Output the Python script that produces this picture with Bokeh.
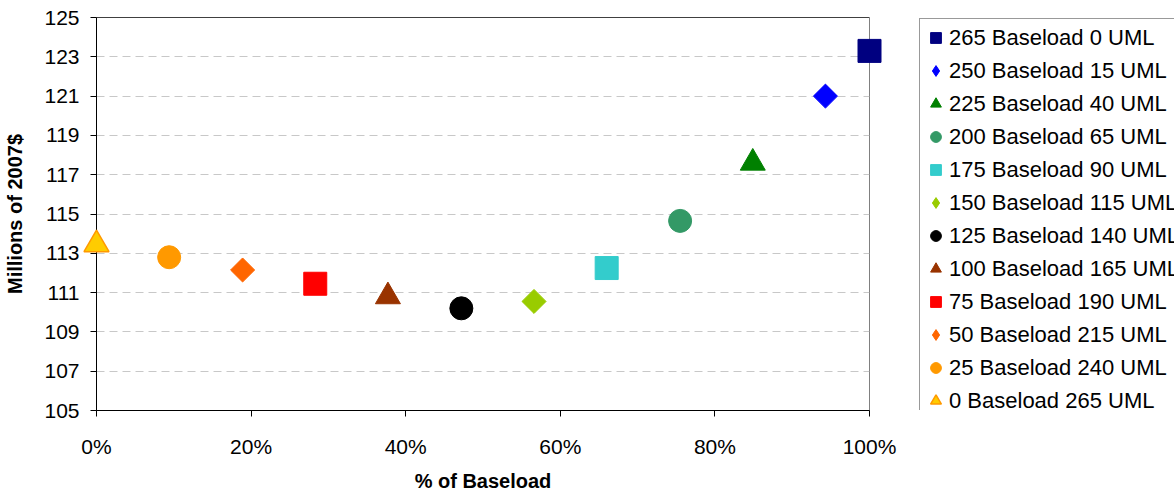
from bokeh.plotting import figure
from bokeh.layouts import row
from bokeh.models import (Legend, LegendItem, NumeralTickFormatter, FixedTicker, Range1d,
                          Span, ColumnDataSource)
from bokeh.embed import file_html
from bokeh.resources import INLINE
import math

# Portfolio mixes: baseload units vs. UML units
series_labels = [
    "265 Baseload 0 UML", "250 Baseload 15 UML", "225 Baseload 40 UML",
    "200 Baseload 65 UML", "175 Baseload 90 UML", "150 Baseload 115 UML",
    "125 Baseload 140 UML", "100 Baseload 165 UML", "75 Baseload 190 UML",
    "50 Baseload 215 UML", "25 Baseload 240 UML", "0 Baseload 265 UML",
]
pct_baseload = [1.000, 0.943, 0.849, 0.755, 0.660, 0.566, 0.472, 0.377, 0.283, 0.189, 0.094, 0.000]
cost_musd = [123.3, 121.0, 117.6, 114.65, 112.25, 110.55, 110.2, 110.8, 111.45, 112.15, 112.8, 113.45]

x_ticks = [0.0, 0.2, 0.4, 0.6, 0.8, 1.0]
y_ticks = [105, 107, 109, 111, 113, 115, 117, 119, 121, 123, 125]

markers = ["square", "diamond", "triangle", "circle", "square", "diamond",
           "circle", "triangle", "square", "diamond", "circle", "triangle"]
fills = ["#000080", "#0000FF", "#008000", "#339966", "#33CCCC", "#99CC00",
         "#000000", "#993300", "#FF0000", "#FF6600", "#FF9900", "#FFCC00"]
outlines = fills[:-1] + ["#FF9900"]

FONT = "Liberation Sans"

# ---- scatter plot -------------------------------------------------------
p = figure(width=918, height=494, output_backend="svg", toolbar_location=None,
           x_range=Range1d(0, 1), y_range=Range1d(105, 125),
           min_border_left=96, min_border_right=49, min_border_top=17, min_border_bottom=77)
p.background_fill_color = "white"
p.border_fill_color = "white"
p.outline_line_color = "#808080"
p.outline_line_width = 1

p.add_layout(Span(location=125, dimension="width", line_color="black", line_width=1))

p.xgrid.grid_line_color = None
p.ygrid.grid_line_color = "#C8C8C8"
p.ygrid.grid_line_dash = "8 5"
p.ygrid.grid_line_width = 1

for ax in (p.xaxis[0], p.yaxis[0]):
    ax.axis_line_color = "black"
    ax.axis_line_width = 1
    ax.major_tick_line_color = "black"
    ax.major_tick_in = 0
    ax.major_tick_out = 6
    ax.minor_tick_line_color = None
    ax.major_label_text_font = FONT
    ax.major_label_text_font_size = "21px"
    ax.major_label_text_color = "black"
    ax.axis_label_text_font = FONT
    ax.axis_label_text_font_size = "20px"
    ax.axis_label_text_font_style = "bold"
    ax.axis_label_text_color = "black"

p.xaxis.ticker = FixedTicker(ticks=x_ticks)
p.xaxis.formatter = NumeralTickFormatter(format="0%")
p.xaxis.axis_label = "% of Baseload"
p.xaxis.major_label_standoff = 18
p.xaxis.axis_label_standoff = 9

p.yaxis.ticker = FixedTicker(ticks=y_ticks)
p.yaxis.axis_label = "Millions of 2007$"
p.yaxis.major_label_standoff = 11
p.yaxis.axis_label_standoff = 15


def marker_style(m):
    if m == "diamond":
        return dict(marker="square", size=17, angle=math.pi / 4)
    if m == "triangle":
        return dict(marker="triangle", size=25)
    return dict(marker=m, size=23)


for i in range(len(series_labels)):
    r = p.scatter(x=[pct_baseload[i]], y=[cost_musd[i]], fill_color=fills[i],
                  line_color=outlines[i], line_width=1.5 if i == 11 else 1,
                  **marker_style(markers[i]))
    r.level = "overlay"

# ---- legend panel -------------------------------------------------------
lg = figure(width=256, height=494, output_backend="svg", toolbar_location=None,
            x_range=Range1d(0, 1), y_range=Range1d(0, 1),
            x_axis_type=None, y_axis_type=None,
            min_border_left=0, min_border_right=0, min_border_top=16, min_border_bottom=0)
lg.outline_line_color = None
lg.xgrid.grid_line_color = None
lg.ygrid.grid_line_color = None
lg.background_fill_color = "white"
lg.border_fill_color = "white"

items = []
for i, label in enumerate(series_labels):
    # key glyph only: a NaN position keeps the swatch out of the panel area
    key = ColumnDataSource(data=dict(x=[float("nan")], y=[float("nan")]))
    r = lg.scatter(x="x", y="y", source=key, marker=markers[i], fill_color=fills[i],
                   line_color=outlines[i], line_width=1.5 if i == 11 else 1)
    items.append(LegendItem(label=label, renderers=[r]))

legend = Legend(items=items, location="top_left")
legend.margin = 1
legend.padding = 2
legend.spacing = 0
legend.glyph_width = 27
legend.glyph_height = 33
legend.label_standoff = 0
legend.label_text_font = FONT
legend.label_text_font_size = "22px"
legend.label_text_color = "black"
legend.border_line_color = "#333333"
legend.border_line_width = 1
legend.background_fill_color = "white"
lg.add_layout(legend, "center")

layout = row(p, lg, spacing=0)
open("out.html", "w").write(file_html(layout, INLINE))
